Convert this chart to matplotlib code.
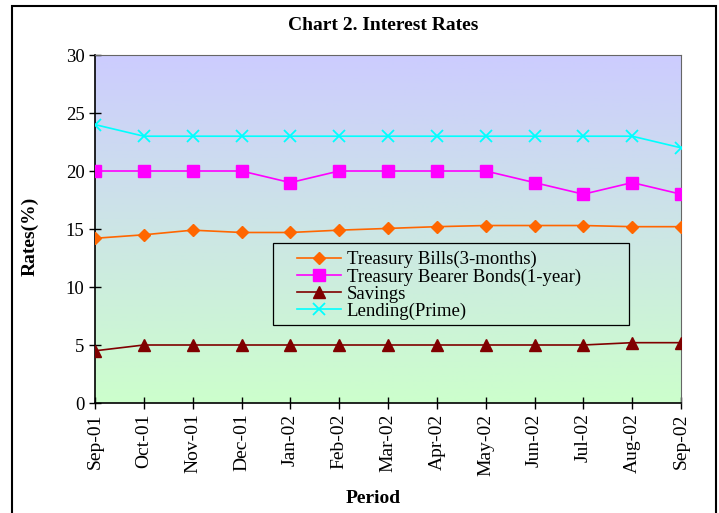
import numpy as np
import matplotlib
matplotlib.use("Agg")
import matplotlib.pyplot as plt
from matplotlib.colors import LinearSegmentedColormap
from matplotlib.patches import Rectangle

periods = ["Sep-01", "Oct-01", "Nov-01", "Dec-01", "Jan-02", "Feb-02", "Mar-02",
           "Apr-02", "May-02", "Jun-02", "Jul-02", "Aug-02", "Sep-02"]
treasury_bills = [14.2, 14.5, 14.9, 14.7, 14.7, 14.9, 15.05, 15.2, 15.3, 15.3, 15.3, 15.2, 15.2]
bearer_bonds = [20, 20, 20, 20, 19, 20, 20, 20, 20, 19, 18, 19, 18]
savings = [4.5, 5.0, 5.0, 5.0, 5.0, 5.0, 5.0, 5.0, 5.0, 5.0, 5.0, 5.2, 5.2]
lending = [24, 23, 23, 23, 23, 23, 23, 23, 23, 23, 23, 23, 22]
yticks = [0, 5, 10, 15, 20, 25, 30]

plt.rcParams['font.family'] = ['Liberation Serif', 'DejaVu Serif']

fig = plt.figure(figsize=(7.19, 5.13), dpi=100)
ax = fig.add_axes([95/719, 1-403/513, (681-95)/719, (403-55)/513])

x = np.arange(len(periods))

# gradient background
cmap = LinearSegmentedColormap.from_list("bg", ["#CCFFCC", "#CCCCFF"])
grad = np.linspace(0, 1, 256).reshape(-1, 1)
ax.imshow(grad, extent=[0, len(periods)-1, 0, 30], origin='lower', cmap=cmap,
          aspect='auto', zorder=0)

lw = 1.2
ax.plot(x, treasury_bills, color='#FF6600', marker='D', markersize=6, lw=lw,
        label='Treasury Bills(3-months)', zorder=3)
ax.plot(x, bearer_bonds, color='#FF00FF', marker='s', markersize=8, lw=lw,
        label='Treasury Bearer Bonds(1-year)', zorder=3)
ax.plot(x, savings, color='#800000', marker='^', markersize=8, lw=lw,
        label='Savings', zorder=3)
ax.plot(x, lending, color='#00FFFF', marker='x', markersize=8, mew=1.3, lw=lw,
        label='Lending(Prime)', zorder=3)

ax.set_xlim(0, len(periods)-1)
ax.set_ylim(0, 30)
ax.set_yticks(yticks)
ax.set_xticks(x)
ax.set_xticklabels(periods, rotation=90, fontsize=14)
ax.tick_params(axis='y', labelsize=13.5, direction='inout', length=8, width=1)
ax.tick_params(axis='x', direction='inout', length=8, width=1)
for s in ['top', 'right']:
    ax.spines[s].set_color('#666666')
for s in ['left', 'bottom']:
    ax.spines[s].set_color('black')
    ax.spines[s].set_linewidth(1.2)

ax.set_ylabel('Rates(%)', fontsize=14, fontweight='bold')
ax.yaxis.set_label_coords((39-95)/586, (403-236)/348)
ax.set_xlabel('Period', fontsize=14, fontweight='bold')
ax.xaxis.set_label_coords((373-95)/586, (403-490)/348)
fig.text(383/719, 1-26/513, 'Chart 2. Interest Rates', ha='center', va='center',
         fontsize=14, fontweight='bold')

# legend frame drawn as a rectangle, legend itself frameless inside it
ax.add_patch(Rectangle(((273-95)/586, (403-325)/348), (629-273)/586, (325-243)/348,
                       transform=ax.transAxes, fill=False, edgecolor='black',
                       lw=0.9, zorder=4))
leg = ax.legend(loc='upper left', bbox_to_anchor=((297-95)/586, (403-251)/348),
                frameon=False, fontsize=13.5, labelspacing=0.0, handlelength=2.35,
                borderpad=0, handletextpad=0.3, borderaxespad=0)

fig.patches.append(Rectangle((12/719, -0.1), (716-12)/719, 1.1 - 6/513,
                             transform=fig.transFigure, fill=False,
                             edgecolor='black', lw=1.5))

fig.savefig('out.png', dpi=100)
